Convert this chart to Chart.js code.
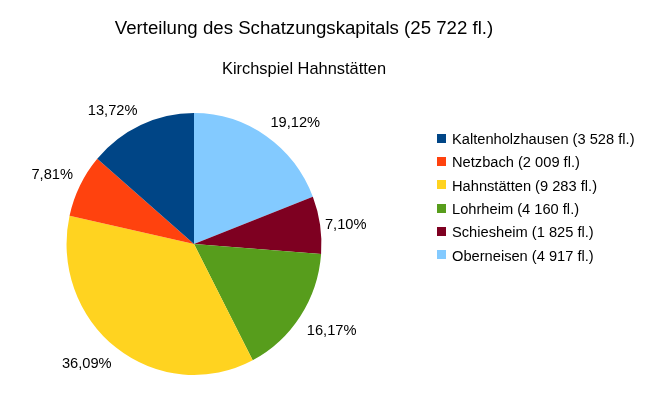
<!DOCTYPE html>
<html lang="de">
<head>
<meta charset="UTF-8">
<title>Verteilung des Schatzungskapitals</title>
<style>
  html, body { margin: 0; padding: 0; background: #fff; }
  #wrap { width: 653px; height: 393px; }
</style>
</head>
<body>
<div id="wrap"><canvas id="pie" width="653" height="393"></canvas></div>

<script src="https://cdn.jsdelivr.net/npm/chart.js"></script>
<script>
// data, in legend order
const places = ['Kaltenholzhausen', 'Netzbach', 'Hahnstätten', 'Lohrheim', 'Schiesheim', 'Oberneisen'];
const capital = [3528, 2009, 9283, 4160, 1825, 4917];
const colors = ['#004586', '#ff420e', '#ffd320', '#579d1c', '#7e0021', '#83caff'];
const titleText = 'Verteilung des Schatzungskapitals (25 722 fl.)';
const subtitleText = 'Kirchspiel Hahnstätten';

const total = capital.reduce((a, b) => a + b, 0);
const fmt = n => n.toLocaleString('de-DE').replace(/\./g, ' ');
const pct = v => (v / total * 100).toFixed(2).replace('.', ',') + '%';

// LibreOffice draws counter-clockwise from 12 o'clock; chart.js goes clockwise, so reverse
const order = places.map((_, i) => i).reverse();

const FONT = '"Liberation Sans", Arial, sans-serif';
const SX = 0.973; // the original pie is slightly squashed horizontally

const squash = {
  id: 'squash',
  beforeDatasetsDraw(chart) {
    const a = chart.chartArea, cx = (a.left + a.right) / 2;
    chart.ctx.save();
    chart.ctx.translate(cx, 0);
    chart.ctx.scale(SX, 1);
    chart.ctx.translate(-cx, 0);
  },
  afterDatasetsDraw(chart) {
    chart.ctx.restore();
  }
};

const textPlugin = {
  id: 'textPlugin',
  afterDraw(chart) {
    const ctx = chart.ctx;
    ctx.save();
    ctx.fillStyle = '#000';
    ctx.textBaseline = 'alphabetic';

    // titles
    ctx.textAlign = 'center';
    ctx.font = '18.67px ' + FONT;
    ctx.fillText(titleText, 304, 34);
    ctx.font = '16.4px ' + FONT;
    ctx.fillText(subtitleText, 304, 74);

    // legend
    ctx.textAlign = 'left';
    ctx.font = '14.67px ' + FONT;
    places.forEach((p, i) => {
      const cy = 138.3 + i * 23.3;
      ctx.fillStyle = colors[i];
      ctx.fillRect(437, Math.round(cy - 4.5), 9, 9);
      ctx.fillStyle = '#000';
      ctx.fillText(p + ' (' + fmt(capital[i]) + ' fl.)', 452, cy + 5.7);
    });

    // percentage labels outside the slices
    const meta = chart.getDatasetMeta(0);
    const cap = 14.67 * 0.716;
    meta.data.forEach((arc, j) => {
      const v = chart.data.datasets[0].data[j];
      const mid = (arc.startAngle + arc.endAngle) / 2;
      const c = Math.cos(mid), s = Math.sin(mid);
      const vMid = Math.abs(s) < 0.38;
      const d = arc.outerRadius + (vMid ? 5 : 8);
      const ax = arc.x + SX * d * c, ay = arc.y + d * s;
      ctx.textAlign = Math.abs(c) < 0.38 ? 'center' : (c > 0 ? 'left' : 'right');
      let by;
      if (vMid) by = ay + cap / 2;
      else if (s > 0) by = ay + cap + 3.5;
      else by = ay - 2.5;
      ctx.fillText(pct(v), ax, by);
    });
    ctx.restore();
  }
};

new Chart(document.getElementById('pie'), {
  type: 'pie',
  data: {
    labels: order.map(i => places[i]),
    datasets: [{
      data: order.map(i => capital[i]),
      backgroundColor: order.map(i => colors[i]),
      borderWidth: 0,
      hoverOffset: 0,
      offset: 0
    }]
  },
  options: {
    responsive: false,
    animation: false,
    layout: { padding: { left: 63, top: 113, right: 328, bottom: 18 } },
    plugins: {
      legend: { display: false },
      title: { display: false },
      tooltip: { enabled: false }
    }
  },
  plugins: [squash, textPlugin]
});
</script>
</body>
</html>
